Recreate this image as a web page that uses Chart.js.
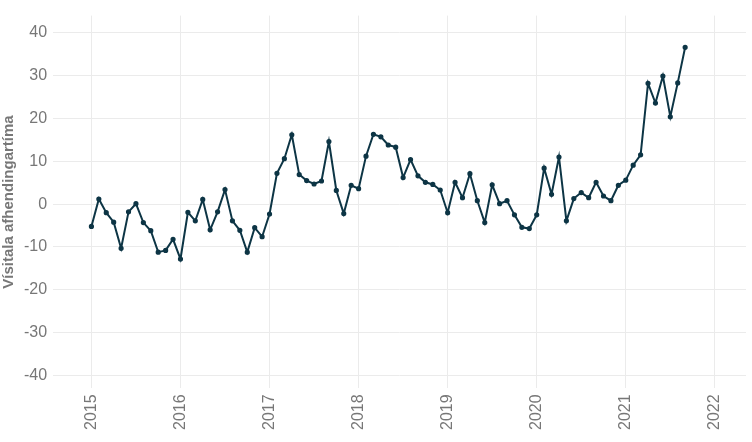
<!DOCTYPE html><html><head><script src="https://cdn.jsdelivr.net/npm/chart.js@4"></script>
<style>body{margin:0;background:#fff}#w{width:752px;height:442px}</style></head><body><div id="w"><canvas id="c"></canvas></div><script>
const startYear = 2015;
const values = [-5.2,1.2,-2,-4.2,-10.3,-1.8,0.1,-4.3,-6.2,-11.2,-10.8,-8.2,
-12.8,-1.9,-3.9,1.1,-6,-1.8,3.4,-3.9,-6.1,-11.2,-5.5,-7.6,
-2.3,7.2,10.6,16.2,6.9,5.5,4.7,5.4,14.6,3.2,-2.2,4.4,
3.6,11.2,16.3,15.7,13.8,13.3,6.2,10.4,6.6,5.1,4.6,3.3,
-2,5.1,1.5,7.1,0.8,-4.3,4.5,0.1,0.8,-2.5,-5.4,-5.7,
-2.5,8.4,2.3,11,-3.9,1.3,2.7,1.5,5.1,1.9,0.8,4.4,
5.6,9.1,11.5,28.2,23.6,29.9,20.4,28.3,36.6];
const yTicks = [-40,-30,-20,-10,0,10,20,30,40];
const pts = values.map((v,i)=>({x:startYear+i/12,y:v}));
new Chart(document.getElementById('c'),{type:'line',
data:{datasets:[{data:pts,borderColor:'#0d3545',backgroundColor:'#0d3545',borderWidth:2,pointRadius:1.6,tension:0}]},
options:{responsive:true,maintainAspectRatio:false,animation:false,
layout:{padding:{top:0,right:4,bottom:6,left:0}},
plugins:{legend:{display:false},tooltip:{enabled:false}},
scales:{x:{type:'linear',min:2014.57,max:2022.35,afterBuildTicks:a=>{a.ticks=[2015,2016,2017,2018,2019,2020,2021,2022].map(v=>({value:v}));},
ticks:{maxRotation:90,minRotation:90,color:'#777',padding:6,font:{family:'Liberation Sans',size:16},callback:v=>String(v)},
grid:{color:'#ebebeb',drawTicks:false},border:{display:false}},
y:{min:-43,max:44,afterBuildTicks:a=>{a.ticks=yTicks.map(v=>({value:v}));},
ticks:{color:'#777',padding:6,font:{family:'Liberation Sans',size:16}},
grid:{color:'#ebebeb',drawTicks:false},border:{display:false},
title:{display:true,text:'Vísitala afhendingartíma',color:'#777',padding:0,font:{family:'Liberation Sans',size:15,weight:'bold'}}}}}});
</script></body></html>
